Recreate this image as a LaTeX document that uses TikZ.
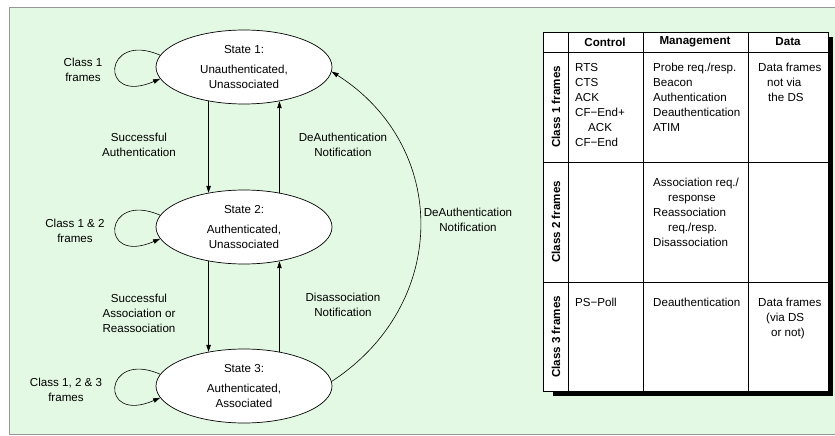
\documentclass[tikz,border=0pt]{standalone}
\usepackage{fontspec}
\setmainfont{Liberation Sans}
\usetikzlibrary{arrows.meta,shapes.geometric}
\definecolor{bggreen}{RGB}{228,249,228}
\definecolor{framegray}{RGB}{150,150,150}
\tikzset{
  base/.style={font=\fontsize{11.6}{15}\selectfont, inner sep=0pt},
  statebox/.style={base, ellipse, draw, fill=white, line width=0.7pt, minimum width=176pt, minimum height=74pt, align=center},
  lbl/.style={base, align=center},
  cell/.style={base, align=left, anchor=north west},
  hdr/.style={base, font=\fontsize{11.6}{15}\selectfont\bfseries},
  rowlbl/.style={base, font=\fontsize{11.6}{15}\selectfont\bfseries, rotate=90},
  arr/.style={line width=0.6pt, -{Triangle[length=7pt,width=4.5pt]}},
  tline/.style={line width=0.8pt}
}
\begin{document}
\begin{tikzpicture}[x=1pt,y=-1pt]
\useasboundingbox (0,0) rectangle (835,436);
\fill[white] (0,0) rectangle (835,436);
\draw[framegray, fill=bggreen, line width=0.8pt] (9,7) rectangle (845,434);

% states
\node[statebox] (s1) at (244,67) {State 1:\\[5pt]Unauthenticated,\\Unassociated};
\node[statebox] (s2) at (244,227) {State 2:\\[5pt]Authenticated,\\Unassociated};
\node[statebox] (s3) at (244,386) {State 3:\\[5pt]Authenticated,\\Associated};

% vertical transitions
\draw[arr] (s1.224) -- (s2.136);
\draw[arr] (s2.44) -- (s1.316);
\draw[arr] (s2.224) -- (s3.136);
\draw[arr] (s3.44) -- (s2.316);

% self loops
\draw[arr] (s1.172) .. controls +(-57,-25) and +(-62,27) .. (s1.188);
\draw[arr] (s2.172) .. controls +(-57,-25) and +(-62,27) .. (s2.188);
\draw[arr] (s3.172) .. controls +(-57,-25) and +(-62,27) .. (s3.188);

% long return
\draw[arr] (s3.3) .. controls +(118,-77) and +(118,75) .. (s1.357);

% labels
\node[lbl] (l1) at (83,70) {Class 1\\frames};
\node[lbl] (l2) at (75,231) {Class 1 \& 2\\frames};
\node[lbl] (l3) at (66,390) {Class 1, 2 \& 3\\frames};
\node[lbl] (t1) at (139,145) {Successful\\Authentication};
\node[lbl] (t2) at (343,145) {DeAuthentication\\Notification};
\node[lbl] (t3) at (139,313) {Successful\\Association or\\Reassociation};
\node[lbl] (t4) at (343,305) {Disassociation\\Notification};
\node[lbl] (t5) at (468,220) {DeAuthentication\\Notification};

% table
\fill[black] (553,37) rectangle (833,396);
\draw[tline, fill=white] (543,32) rectangle (828,391);
\draw[tline] (568,32) -- (568,391);
\draw[tline] (643,32) -- (643,391);
\draw[tline] (748,32) -- (748,391);
\draw[tline] (543,52) -- (828,52);
\draw[tline] (543,162) -- (828,162);
\draw[tline] (543,282) -- (828,282);

\node[hdr] (hc) at (605,42) {Control};
\node[hdr] (hm) at (695,42) {Management};
\node[hdr] (hd) at (788,42) {Data};

\node[rowlbl] (r1) at (556,107) {Class 1 frames};
\node[rowlbl] (r2) at (556,222) {Class 2 frames};
\node[rowlbl] (r3) at (556,337) {Class 3 frames};

\node[cell] (c11) at (575,63) {RTS\\CTS\\ACK\\CF−End+\\\hspace*{13pt}ACK\\CF−End};
\node[cell] (c12) at (653,63) {Probe req./resp.\\Beacon\\Authentication\\Deauthentication\\ATIM};
\node[cell] (c13) at (758,63) {Data frames\\\hspace*{9pt}not via\\\hspace*{10pt}the DS};
\node[cell] (c22) at (653,178) {Association req./\\\hspace*{15pt}response\\Reassociation\\\hspace*{15pt}req./resp.\\Disassociation};
\node[cell] (c31) at (575,298) {PS−Poll};
\node[cell] (c32) at (653,298) {Deauthentication};
\node[cell] (c33) at (758,298) {Data frames\\\hspace*{8pt}(via DS\\\hspace*{13pt}or not)};
\end{tikzpicture}
\end{document}
